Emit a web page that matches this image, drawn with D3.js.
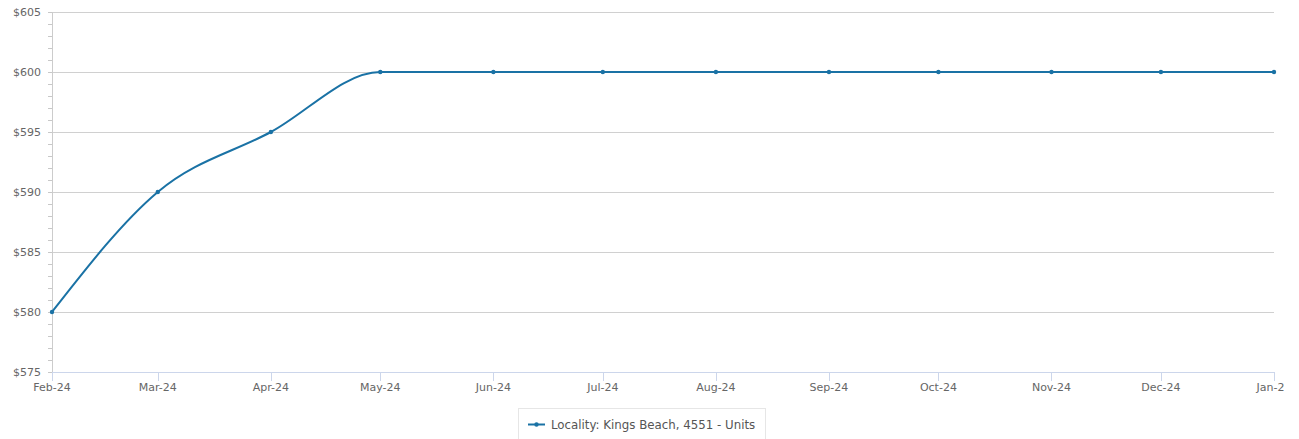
<!DOCTYPE html>
<html>
<head>
<meta charset="utf-8">
<script src="https://cdn.jsdelivr.net/npm/d3@7"></script>
<style>
  html, body { margin: 0; padding: 0; background: #fff; }
  svg { display: block; font-family: "DejaVu Sans", sans-serif; }
</style>
</head>
<body>
<svg id="chart" width="1299" height="439"></svg>
<script>
// Monthly median weekly rent, Kings Beach 4551 units
const months = ["2024-02-01","2024-03-01","2024-04-01","2024-05-01","2024-06-01","2024-07-01",
                "2024-08-01","2024-09-01","2024-10-01","2024-11-01","2024-12-01","2025-01-01"];
const rents = [580, 590, 595, 600, 600, 600, 600, 600, 600, 600, 600, 600];
const yTicks = [575, 580, 585, 590, 595, 600, 605];
const seriesName = "Locality: Kings Beach, 4551 - Units";

const W = 1299, H = 439;
const margin = { left: 52, right: 25, top: 12, bottom: 67 };
const color = "#1a72a5";

const svg = d3.select("#chart");
const parse = d3.timeParse("%Y-%m-%d");
const dates = months.map(parse);
const data = dates.map((d, i) => ({ date: d, value: rents[i] }));

const x = d3.scaleTime()
  .domain(d3.extent(dates))
  .range([margin.left, W - margin.right]);
const y = d3.scaleLinear()
  .domain([575, 605])
  .range([H - margin.bottom, margin.top]);

// Clip region for the outermost labels
svg.append("defs").append("clipPath").attr("id", "labelClip")
  .append("rect").attr("x", 0).attr("y", 0).attr("width", 1284).attr("height", H);

// Horizontal grid lines
svg.append("g")
  .selectAll("line")
  .data(yTicks.slice(1))
  .join("line")
  .attr("x1", margin.left).attr("x2", W - margin.right)
  .attr("y1", d => Math.round(y(d)) + 0.5).attr("y2", d => Math.round(y(d)) + 0.5)
  .attr("stroke", "#d0d0d0").attr("stroke-width", 1);

// Y axis: line, minor ticks and labels
const minor = d3.range(575, 605.01, 1);
const yAxis = svg.append("g");
yAxis.append("line")
  .attr("x1", margin.left + 0.5).attr("x2", margin.left + 0.5)
  .attr("y1", y(605)).attr("y2", y(575))
  .attr("stroke", "#cccccc");
yAxis.selectAll("line.minor")
  .data(minor)
  .join("line").attr("class", "minor")
  .attr("x1", margin.left - 4).attr("x2", margin.left)
  .attr("y1", d => Math.round(y(d)) + 0.5).attr("y2", d => Math.round(y(d)) + 0.5)
  .attr("stroke", "#c8c8c8");
yAxis.selectAll("text")
  .data(yTicks)
  .join("text")
  .attr("x", margin.left - 11)
  .attr("y", d => y(d) + 4)
  .attr("text-anchor", "end")
  .attr("font-size", 11)
  .attr("fill", "#666666")
  .text(d => "$" + d);

// X axis
const xAxis = svg.append("g");
xAxis.append("line")
  .attr("x1", margin.left).attr("x2", W - margin.right)
  .attr("y1", y(575) + 0.5).attr("y2", y(575) + 0.5)
  .attr("stroke", "#ccd6eb");
xAxis.selectAll("line.tick")
  .data(dates)
  .join("line").attr("class", "tick")
  .attr("x1", d => Math.round(x(d)) + 0.5).attr("x2", d => Math.round(x(d)) + 0.5)
  .attr("y1", y(575)).attr("y2", y(575) + 9)
  .attr("stroke", "#ccd6eb");
xAxis.append("g").attr("clip-path", "url(#labelClip)")
  .selectAll("text")
  .data(dates)
  .join("text")
  .attr("x", d => x(d))
  .attr("y", y(575) + 19)
  .attr("text-anchor", "middle")
  .attr("font-size", 11)
  .attr("fill", "#666666")
  .text(d => d3.timeFormat("%b-%y")(d));

// Series line
const line = d3.line()
  .x(d => x(d.date))
  .y(d => y(d.value))
  .curve(d3.curveMonotoneX);
svg.append("path")
  .datum(data)
  .attr("d", line)
  .attr("fill", "none")
  .attr("stroke", color)
  .attr("stroke-width", 2);
svg.append("g")
  .selectAll("circle")
  .data(data)
  .join("circle")
  .attr("cx", d => x(d.date))
  .attr("cy", d => y(d.value))
  .attr("r", 2.2)
  .attr("fill", color);

// Legend
const legend = svg.append("g");
legend.append("rect")
  .attr("x", 518.5).attr("y", 408.5).attr("width", 247).attr("height", 40)
  .attr("fill", "#ffffff").attr("stroke", "#e6e6e6");
legend.append("line")
  .attr("x1", 528).attr("x2", 545).attr("y1", 424.5).attr("y2", 424.5)
  .attr("stroke", color).attr("stroke-width", 2);
legend.append("circle")
  .attr("cx", 536.5).attr("cy", 424.5).attr("r", 2.2).attr("fill", color);
legend.append("text")
  .attr("x", 551).attr("y", 428.5)
  .attr("font-size", 11.8)
  .attr("fill", "#555555")
  .text(seriesName);
</script>
</body>
</html>
